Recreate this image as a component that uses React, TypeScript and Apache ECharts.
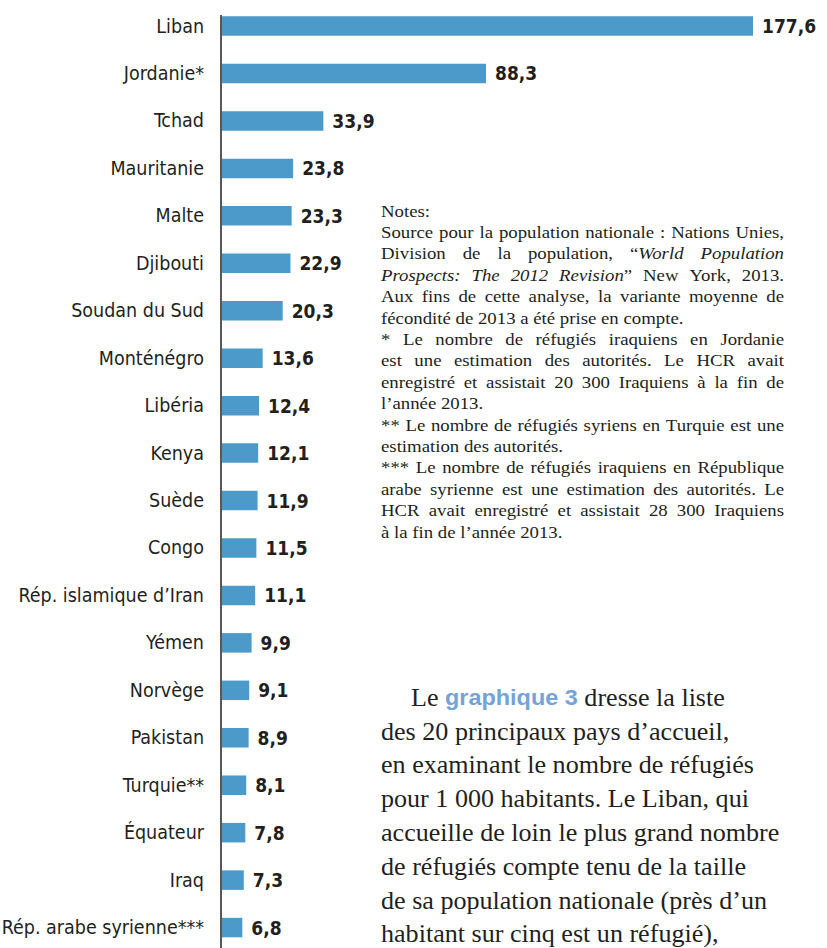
import React, { useEffect, useRef } from "react";
import * as echarts from "echarts";

const categories = [
  "Liban", "Jordanie*", "Tchad", "Mauritanie", "Malte", "Djibouti", "Soudan du Sud",
  "Monténégro", "Libéria", "Kenya", "Suède", "Congo", "Rép. islamique d’Iran", "Yémen",
  "Norvège", "Pakistan", "Turquie**", "Équateur", "Iraq", "Rép. arabe syrienne***",
];
const values = [177.6, 88.3, 33.9, 23.8, 23.3, 22.9, 20.3, 13.6, 12.4, 12.1, 11.9, 11.5, 11.1, 9.9, 9.1, 8.9, 8.1, 7.8, 7.3, 6.8];

// Notes, grouped by paragraph (last line of each paragraph is not justified)
const notesParagraphs = [
  ["Notes:"],
  [
    "Source pour la population nationale : Nations Unies,",
    "Division de la population, “{i|World Population}",
    "{i|Prospects: The 2012 Revision}” New York, 2013.",
    "Aux fins de cette analyse, la variante moyenne de",
    "fécondité de 2013 a été prise en compte.",
  ],
  [
    "* Le nombre de réfugiés iraquiens en Jordanie",
    "est une estimation des autorités. Le HCR avait",
    "enregistré et assistait 20 300 Iraquiens à la fin de",
    "l’année 2013.",
  ],
  [
    "** Le nombre de réfugiés syriens en Turquie est une",
    "estimation des autorités.",
  ],
  [
    "*** Le nombre de réfugiés iraquiens en République",
    "arabe syrienne est une estimation des autorités. Le",
    "HCR avait enregistré et assistait 28 300 Iraquiens",
    "à la fin de l’année 2013.",
  ],
];

const paragraphLines = [
  "Le {g|graphique 3} dresse la liste",
  "des 20 principaux pays d’accueil,",
  "en examinant le nombre de réfugiés",
  "pour 1 000 habitants. Le Liban, qui",
  "accueille de loin le plus grand nombre",
  "de réfugiés compte tenu de la taille",
  "de sa population nationale (près d’un",
  "habitant sur cinq est un réfugié),",
];

const NARROW = "'Liberation Sans Narrow', 'DejaVu Sans Condensed', 'Roboto Condensed', Arial, sans-serif";
const SERIF_NAME = "Liberation Serif";
const SERIF = "'Liberation Serif', 'DejaVu Serif', serif";
const TEXT = "#231f20";

type Seg = { t: string; it: boolean };

function parseSegs(line: string): Seg[] {
  const out: Seg[] = [];
  const re = /\{i\|([^}]*)\}/g;
  let last = 0;
  let m: RegExpExecArray | null;
  while ((m = re.exec(line))) {
    if (m.index > last) out.push({ t: line.slice(last, m.index), it: false });
    out.push({ t: m[1], it: true });
    last = m.index + m[0].length;
  }
  if (last < line.length) out.push({ t: line.slice(last), it: false });
  return out;
}

function splitWords(segs: Seg[]): Seg[][] {
  const words: Seg[][] = [];
  let cur: Seg[] = [];
  segs.forEach((s) => {
    const parts = s.t.split(" ");
    parts.forEach((p, k) => {
      if (k > 0) {
        if (cur.length) words.push(cur);
        cur = [];
      }
      if (p.length) cur.push({ t: p, it: s.it });
    });
  });
  if (cur.length) words.push(cur);
  return words;
}

export default function App() {
  const ref = useRef<HTMLDivElement>(null);
  useEffect(() => {
    if (!ref.current) return;
    const chart = echarts.init(ref.current, undefined, { renderer: "svg" });

    const NOTE_SIZE = 16.2;
    const NOTE_SX = 1.16;
    const NOTE_X = 381;
    const NOTE_W = 403;
    const ctx = document.createElement("canvas").getContext("2d")!;
    const measure = (s: Seg) => {
      ctx.font = `${s.it ? "italic " : ""}${NOTE_SIZE}px "${SERIF_NAME}"`;
      return ctx.measureText(s.t).width;
    };
    const richOf = (segs: Seg[]) => segs.map((s) => (s.it ? `{i|${s.t}}` : s.t)).join("");
    const noteRich = {
      i: { fontFamily: SERIF, fontSize: NOTE_SIZE, fontStyle: "italic", fill: TEXT },
    };

    const graphics: any[] = [
      {
        type: "line",
        shape: { x1: 221, y1: 15, x2: 221, y2: 948 },
        style: { stroke: TEXT, lineWidth: 1.5 },
        silent: true,
      },
    ];

    let lineIdx = 0;
    notesParagraphs.forEach((para) => {
      para.forEach((line, j) => {
        const y = 211 + 21.4 * lineIdx;
        lineIdx++;
        const justify = j < para.length - 1;
        if (!justify) {
          graphics.push({
            type: "text",
            x: NOTE_X,
            y,
            scaleX: NOTE_SX,
            style: {
              text: line,
              fontFamily: SERIF,
              fontSize: NOTE_SIZE,
              fill: TEXT,
              align: "left",
              verticalAlign: "middle",
              rich: noteRich,
            },
          });
          return;
        }
        const words = splitWords(parseSegs(line));
        const widths = words.map((w) => w.reduce((a, s) => a + measure(s), 0) * NOTE_SX);
        const total = widths.reduce((a, b) => a + b, 0);
        const gap = words.length > 1 ? (NOTE_W - total) / (words.length - 1) : 0;
        let x = NOTE_X;
        words.forEach((w, k) => {
          graphics.push({
            type: "text",
            x,
            y,
            scaleX: NOTE_SX,
            style: {
              text: richOf(w),
              fontFamily: SERIF,
              fontSize: NOTE_SIZE,
              fill: TEXT,
              align: "left",
              verticalAlign: "middle",
              rich: noteRich,
            },
          });
          x += widths[k] + gap;
        });
      });
    });

    paragraphLines.forEach((line, i) => {
      graphics.push({
        type: "text",
        x: i === 0 ? 411 : 381,
        y: 697 + 33.8 * i,
        scaleX: 1.065,
        style: {
          text: line,
          fontFamily: SERIF,
          fontSize: 24.5,
          fill: TEXT,
          align: "left",
          verticalAlign: "middle",
          rich: {
            g: { fontFamily: "'Liberation Sans', Arial, sans-serif", fontWeight: "bold", fontSize: 22, fill: "#74a3d9" },
          },
        },
      });
    });

    chart.setOption({
      animation: false,
      backgroundColor: "#ffffff",
      grid: { left: 222, top: 2.3, width: 598, height: 949, containLabel: false, outerBoundsMode: "none" },
      xAxis: {
        type: "value",
        min: 0,
        max: 200,
        show: false,
      },
      yAxis: {
        type: "category",
        data: categories,
        inverse: true,
        axisLine: { show: false },
        axisTick: { show: false },
        splitLine: { show: false },
        axisLabel: {
          margin: 18,
          fontFamily: NARROW,
          fontSize: 19.5,
          color: TEXT,
        },
      },
      series: [
        {
          type: "bar",
          data: values,
          barWidth: 19.5,
          itemStyle: { color: "#4b9ac9" },
          label: {
            show: true,
            position: "right",
            distance: 9,
            fontFamily: NARROW,
            fontWeight: "bold",
            fontSize: 19,
            color: TEXT,
            formatter: (p: any) => p.value.toFixed(1).replace(".", ","),
          },
        },
      ],
      graphic: graphics,
    });
    return () => chart.dispose();
  }, []);

  return (
    <div
      ref={ref}
      style={{ position: "absolute", left: 0, top: 0, width: 827, height: 948 }}
    />
  );
}
